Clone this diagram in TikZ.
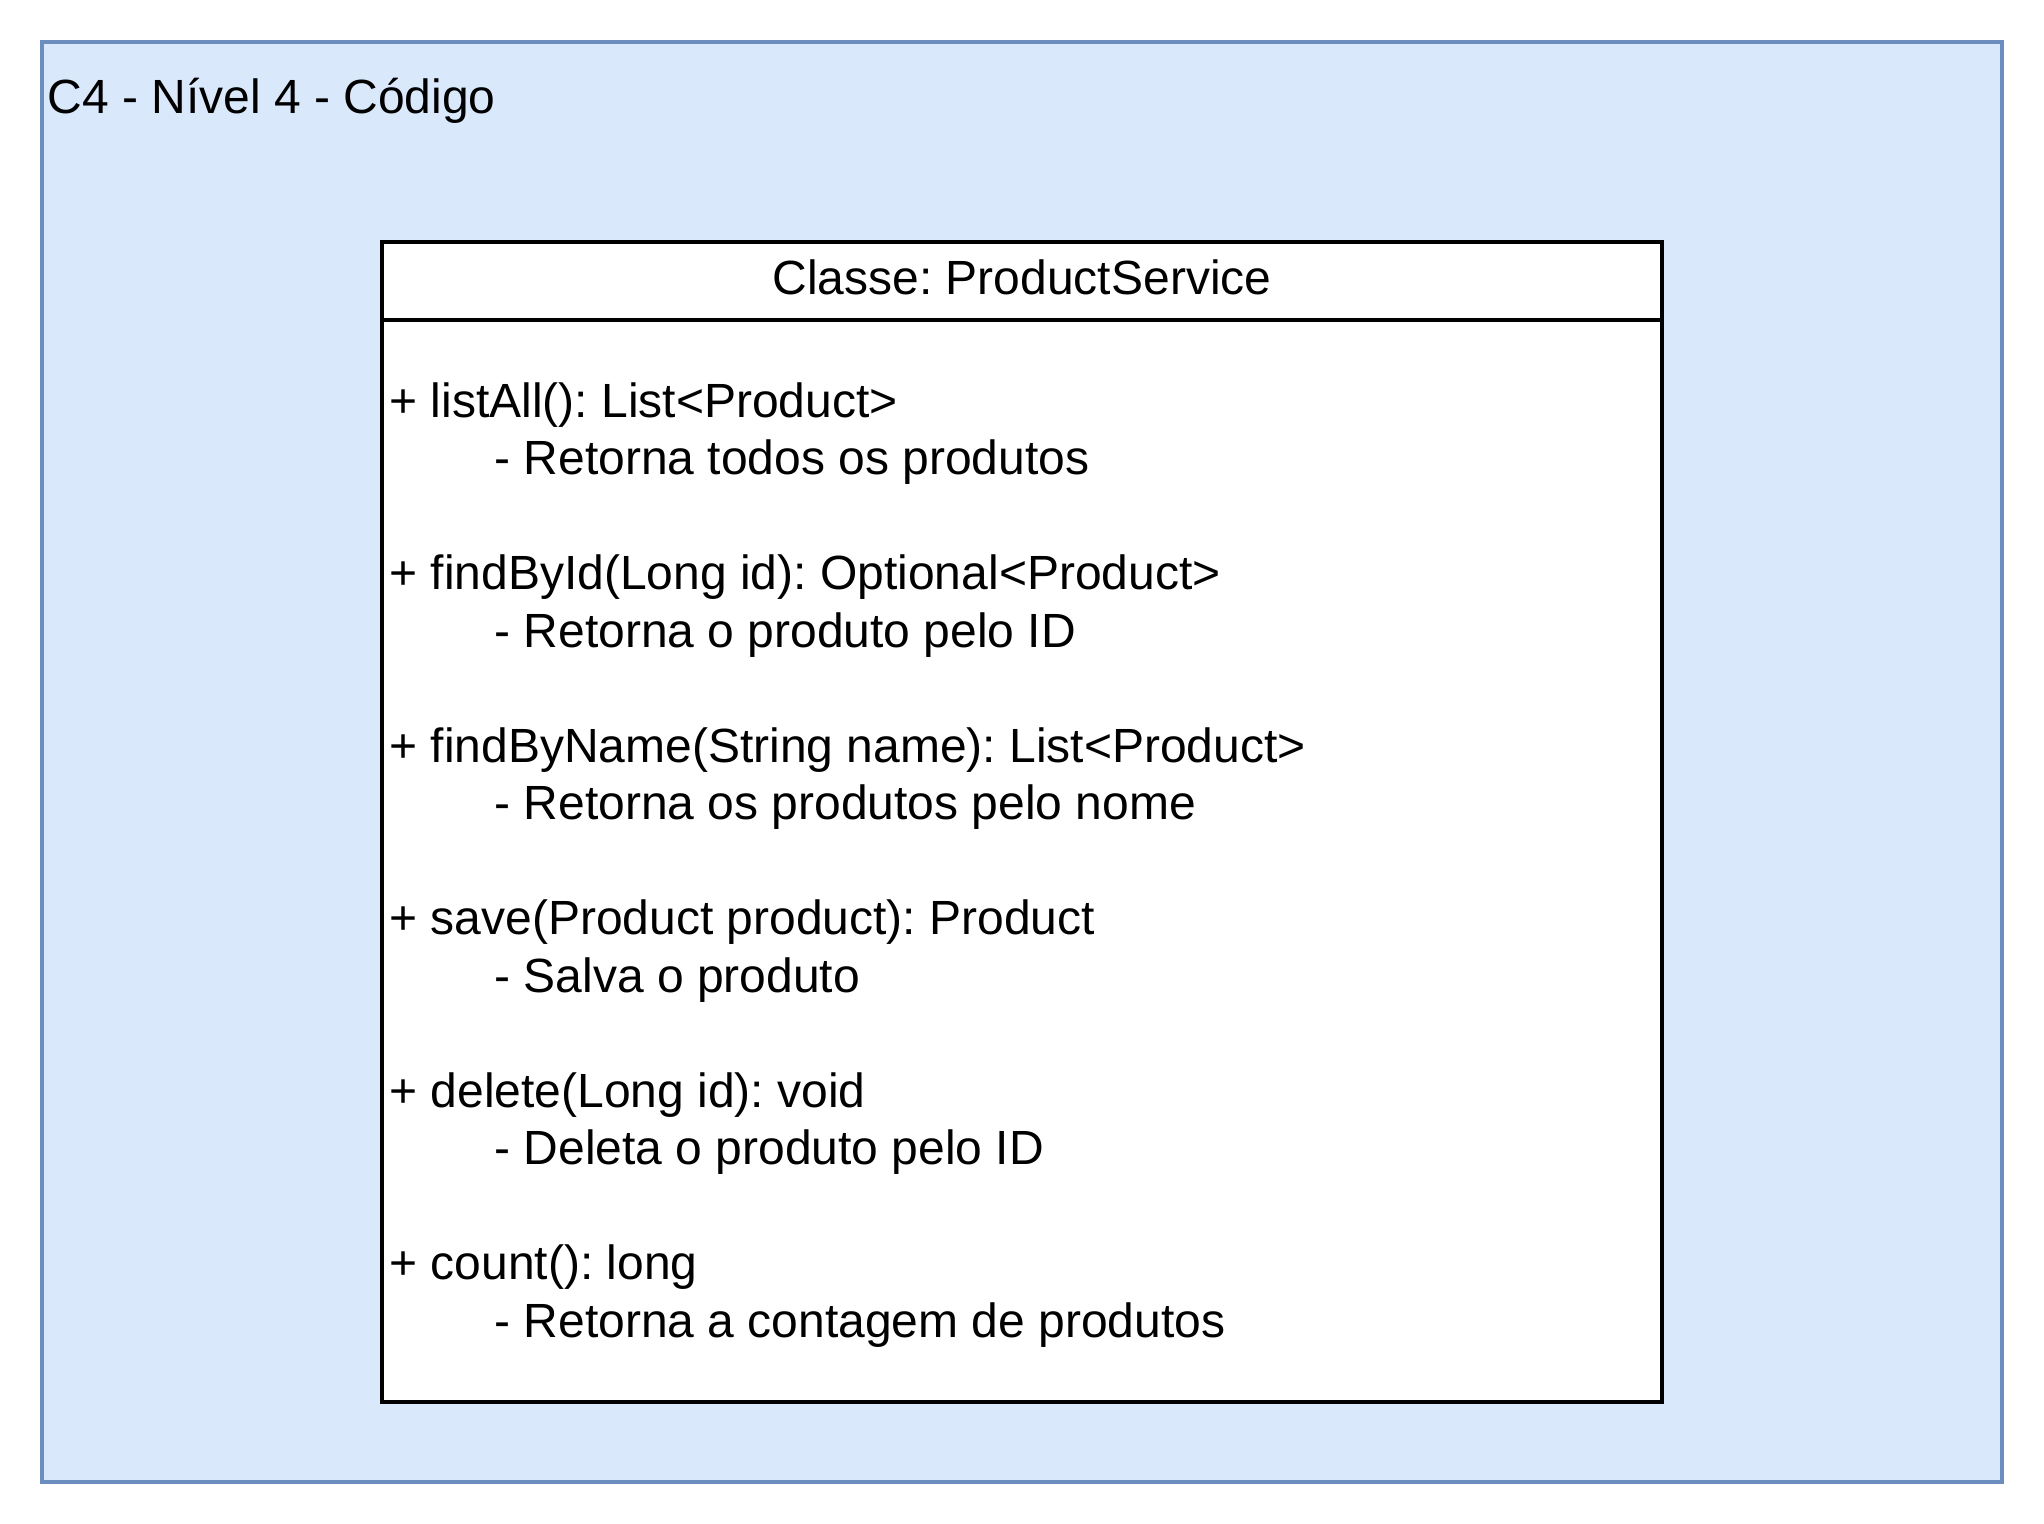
\documentclass[tikz,border=0pt]{standalone}
\usepackage{fontspec}
\setmainfont{Liberation Sans}
\frenchspacing
\definecolor{bfill}{HTML}{DAE8FC}
\definecolor{bline}{HTML}{6C8EBF}
\tikzset{
  frame/.style={draw=bline, fill=bfill, line width=2pt, minimum width=980pt, minimum height=720pt, inner sep=0pt},
  classbox/.style={draw=black, fill=white, line width=2pt, minimum width=640pt, minimum height=580pt, inner sep=0pt},
  txt/.style={inner sep=0pt, font=\fontsize{24}{28.75}\selectfont\frenchspacing, anchor=base west},
  hdr/.style={inner sep=0pt, font=\fontsize{24}{28.75}\selectfont\frenchspacing, anchor=base},
}
\begin{document}
\begin{tikzpicture}[x=0.5pt,y=-0.5pt]
\useasboundingbox (0,0) rectangle (2044,1524);
\node[frame] (outer) at (1022,762) {};
\node[txt] (title) at (47,114) {C4 - Nível 4 - Código};
\node[classbox] (cls) at (1022,822) {};
\draw[line width=2pt] ([yshift=-40pt]cls.north west) -- ([yshift=-40pt]cls.north east);
\node[hdr] (clsname) at (1022,295) {Classe: ProductService};
\node[txt] (m1a) at (389,417) {+ listAll(): List<Product>};
\node[txt] (m1b) at (494,474.5) {- Retorna todos os produtos};
\node[txt] (m2a) at (389,589.5) {+ findById(Long id): Optional<Product>};
\node[txt] (m2b) at (494,647) {- Retorna o produto pelo ID};
\node[txt] (m3a) at (389,762) {+ findByName(String name): List<Product>};
\node[txt] (m3b) at (494,819.5) {- Retorna os produtos pelo nome};
\node[txt] (m4a) at (389,934.5) {+ save(Product product): Product};
\node[txt] (m4b) at (494,992) {- Salva o produto};
\node[txt] (m5a) at (389,1107) {+ delete(Long id): void};
\node[txt] (m5b) at (494,1164.5) {- Deleta o produto pelo ID};
\node[txt] (m6a) at (389,1279.5) {+ count(): long};
\node[txt] (m6b) at (494,1337) {- Retorna a contagem de produtos};
\end{tikzpicture}
\end{document}
